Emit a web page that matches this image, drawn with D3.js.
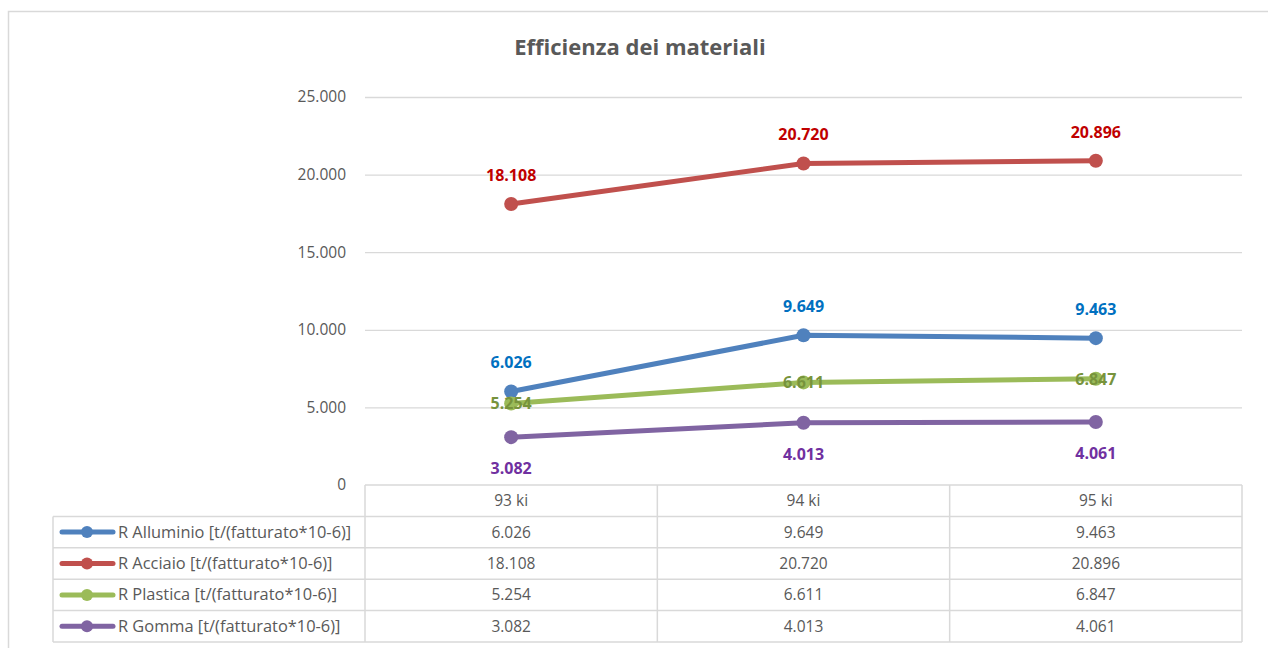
<!DOCTYPE html>
<html>
<head>
<meta charset="utf-8">
<script src="https://cdn.jsdelivr.net/npm/d3@7"></script>
<style>
  html, body { margin: 0; padding: 0; background: #fff; }
  #chart { width: 1268px; height: 648px; }
  text { font-family: "Open Sans", Lato, sans-serif; }
</style>
</head>
<body>
<div id="chart"></div>
<script>
const categories = ["93 ki", "94 ki", "95 ki"];
const seriesNames = [
    "R Alluminio [t/(fatturato*10-6)]",
    "R Acciaio [t/(fatturato*10-6)]",
    "R Plastica [t/(fatturato*10-6)]",
    "R Gomma [t/(fatturato*10-6)]"
];
const alluminio = [6026, 9649, 9463];
const acciaio = [18108, 20720, 20896];
const plastica = [5254, 6611, 6847];
const gomma = [3082, 4013, 4061];
const yTicks = [0, 5000, 10000, 15000, 20000, 25000];

const lineColors = ["#4F81BD", "#C0504D", "#9BBB59", "#8064A2"];
const labelColors = ["#0070C0", "#C00000", "#77933C", "#7030A0"];
const labelPos = ["above", "above", "center", "below"];

const series = [alluminio, acciaio, plastica, gomma].map((values, i) => ({
    name: seriesNames[i],
    values: values,
    color: lineColors[i],
    labelColor: labelColors[i],
    pos: labelPos[i]
}));

const width = 1268, height = 648;
const plot = { left: 365, right: 1242, top: 97, bottom: 485 };
const tableLeft = 53;
const rowH = 31.4;

const it = d3.formatLocale({ decimal: ",", thousands: ".", grouping: [3], currency: ["€", ""] });
const fmt = it.format(",");

const svg = d3.select("#chart").append("svg")
    .attr("width", width)
    .attr("height", height);

// bordo esterno
svg.append("rect")
    .attr("x", 8.5).attr("y", 11.5)
    .attr("width", width + 10).attr("height", height + 10)
    .attr("fill", "#fff")
    .attr("stroke", "#d9d9d9")
    .attr("stroke-width", 1.5);

// titolo
svg.append("text")
    .attr("x", 640).attr("y", 55)
    .attr("text-anchor", "middle")
    .attr("font-size", "22px")
    .attr("font-weight", "bold")
    .attr("fill", "#595959")
    .text("Efficienza dei materiali");

const x = d3.scaleBand()
    .domain(categories)
    .range([plot.left, plot.right]);

const y = d3.scaleLinear()
    .domain([0, 25000])
    .range([plot.bottom, plot.top]);

// griglia + etichette asse Y
const yAxis = svg.append("g")
    .attr("transform", `translate(${plot.left},0)`)
    .call(d3.axisLeft(y)
        .tickValues(yTicks)
        .tickSize(-(plot.right - plot.left))
        .tickPadding(19)
        .tickFormat(d => d === 0 ? "0" : fmt(d)));
yAxis.select(".domain").remove();
yAxis.selectAll("line")
    .attr("stroke", "#d9d9d9")
    .attr("stroke-width", 1.3)
    .filter(d => d === 0).remove();
yAxis.selectAll("text")
    .attr("fill", "#595959")
    .attr("font-size", "15.5px")
    .attr("font-family", "'Open Sans', Lato, sans-serif");

// linee
const line = d3.line()
    .x((d, i) => x(categories[i]) + x.bandwidth() / 2)
    .y(d => y(d));

const sg = svg.selectAll("g.series")
    .data(series)
    .enter()
    .append("g")
    .attr("class", "series");

sg.append("path")
    .attr("d", d => line(d.values))
    .attr("fill", "none")
    .attr("stroke", d => d.color)
    .attr("stroke-width", 5)
    .attr("stroke-linejoin", "round")
    .attr("stroke-linecap", "round");

sg.selectAll("circle")
    .data(d => d.values.map((v, i) => ({ v, i, s: d })))
    .enter()
    .append("circle")
    .attr("cx", d => x(categories[d.i]) + x.bandwidth() / 2)
    .attr("cy", d => y(d.v))
    .attr("r", 7)
    .attr("fill", d => d.s.color);

sg.selectAll("text.lbl")
    .data(d => d.values.map((v, i) => ({ v, i, s: d })))
    .enter()
    .append("text")
    .attr("class", "lbl")
    .attr("x", d => x(categories[d.i]) + x.bandwidth() / 2)
    .attr("y", d => y(d.v) + (d.s.pos === "above" ? -23 : d.s.pos === "below" ? 37 : 6))
    .attr("text-anchor", "middle")
    .attr("font-size", "16px")
    .attr("font-weight", "bold")
    .attr("fill", d => d.s.labelColor)
    .text(d => fmt(d.v));

// tabella dati
const table = svg.append("g").attr("class", "table");
const gridColor = "#d9d9d9";
const tableBottom = plot.bottom + rowH * (series.length + 1);

table.append("line")
    .attr("x1", plot.left).attr("x2", plot.right)
    .attr("y1", plot.bottom).attr("y2", plot.bottom)
    .attr("stroke", gridColor).attr("stroke-width", 1.5);
d3.range(1, series.length + 2).forEach(r => {
    table.append("line")
        .attr("x1", tableLeft).attr("x2", plot.right)
        .attr("y1", plot.bottom + r * rowH).attr("y2", plot.bottom + r * rowH)
        .attr("stroke", gridColor).attr("stroke-width", 1.5);
});
table.append("line")
    .attr("x1", tableLeft).attr("x2", tableLeft)
    .attr("y1", plot.bottom + rowH).attr("y2", tableBottom)
    .attr("stroke", gridColor).attr("stroke-width", 1.5);
[plot.left].concat(categories.map(c => x(c) + x.bandwidth())).forEach(xx => {
    table.append("line")
        .attr("x1", xx).attr("x2", xx)
        .attr("y1", plot.bottom).attr("y2", tableBottom)
        .attr("stroke", gridColor).attr("stroke-width", 1.5);
});

// intestazione
table.selectAll("text.hdr")
    .data(categories)
    .enter()
    .append("text")
    .attr("x", d => x(d) + x.bandwidth() / 2)
    .attr("y", plot.bottom + rowH / 2 + 5.5)
    .attr("text-anchor", "middle")
    .attr("font-size", "15.5px")
    .attr("fill", "#595959")
    .text(d => d);

// righe
series.forEach((s, r) => {
    const cy = plot.bottom + (r + 1) * rowH + rowH / 2;
    table.append("line")
        .attr("x1", 62).attr("x2", 113)
        .attr("y1", cy).attr("y2", cy)
        .attr("stroke", s.color)
        .attr("stroke-width", 5)
        .attr("stroke-linecap", "round");
    table.append("circle")
        .attr("cx", 87).attr("cy", cy).attr("r", 6)
        .attr("fill", s.color);
    table.append("text")
        .attr("x", 118).attr("y", cy + 5.5)
        .attr("font-size", "16.4px")
        .attr("fill", "#595959")
        .text(s.name);
    s.values.forEach((v, i) => {
        table.append("text")
            .attr("x", x(categories[i]) + x.bandwidth() / 2)
            .attr("y", cy + 5.5)
            .attr("text-anchor", "middle")
            .attr("font-size", "15.5px")
            .attr("fill", "#595959")
            .text(fmt(v));
    });
});
</script>
</body>
</html>
